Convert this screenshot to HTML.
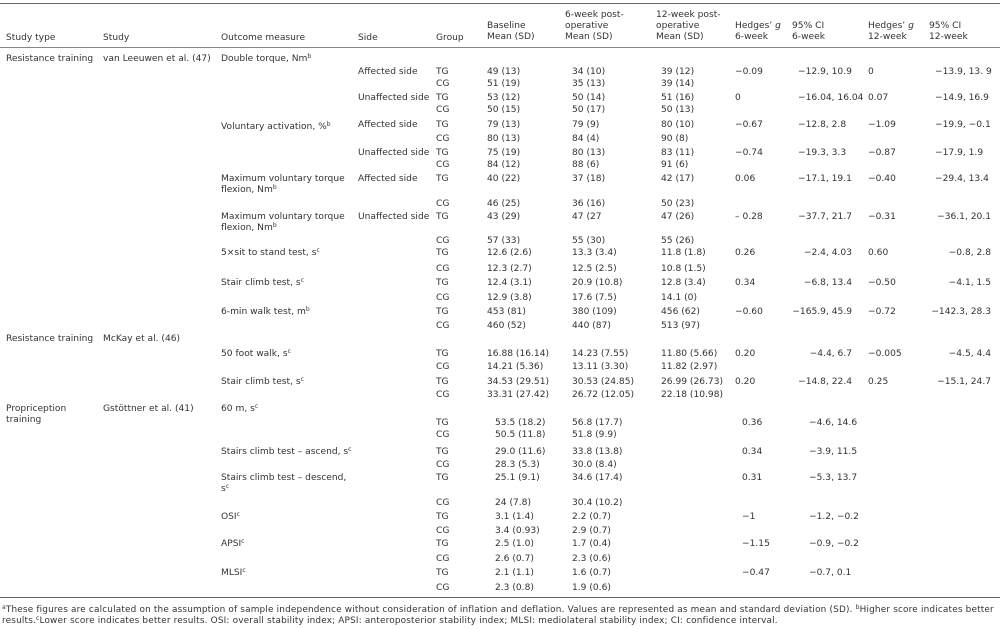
<!DOCTYPE html>
<html><head><meta charset="utf-8">
<style>
html,body{margin:0;padding:0;background:#fff;}
#t{position:relative;width:1000px;height:629px;overflow:hidden;font-family:"DejaVu Sans","Liberation Sans",sans-serif;font-size:9.1px;color:#333;}
.c{position:absolute;white-space:nowrap;line-height:11px;}
.r{transform:translateX(-100%);}
.hl{position:absolute;left:0;width:1000px;height:1px;background:#888;}
sup{font-size:6px;line-height:0;vertical-align:3px;}
.fn{font-size:8.9px;letter-spacing:0.18px;}
</style></head>
<body>
<div id="t">
<div class="hl" style="top:3px;background:#666"></div>
<div class="hl" style="top:47px"></div>
<div class="hl" style="top:597px;background:#666"></div>
<div class="c" style="left:6px;top:33px">Study type</div>
<div class="c" style="left:103px;top:33px">Study</div>
<div class="c" style="left:221px;top:33px">Outcome measure</div>
<div class="c" style="left:358px;top:33px">Side</div>
<div class="c" style="left:436px;top:33px">Group</div>
<div class="c" style="left:487px;top:21px">Baseline<br>Mean (SD)</div>
<div class="c" style="left:565px;top:10px">6-week post-<br>operative<br>Mean (SD)</div>
<div class="c" style="left:656px;top:10px">12-week post-<br>operative<br>Mean (SD)</div>
<div class="c" style="left:735px;top:21px">Hedges’ <i>g</i><br>6-week</div>
<div class="c" style="left:792px;top:21px">95% CI<br>6-week</div>
<div class="c" style="left:868px;top:21px">Hedges’ <i>g</i><br>12-week</div>
<div class="c" style="left:929px;top:21px">95% CI<br>12-week</div>
<div class="c fn" style="left:2px;top:605px"><sup>a</sup>These figures are calculated on the assumption of sample independence without consideration of inflation and deflation. Values are represented as mean and standard deviation (SD). <sup>b</sup>Higher score indicates better</div>
<div class="c fn" style="left:2px;top:616px">results.<sup>c</sup>Lower score indicates better results. OSI: overall stability index; APSI: anteroposterior stability index; MLSI: mediolateral stability index; CI: confidence interval.</div>
</div>
<script>
var labels=[
[59,"Resistance training","van Leeuwen et al. (47)","Double torque, Nm<sup>b</sup>"],
[127,"","","Voluntary activation, %<sup>b</sup>"],
[179,"","","Maximum voluntary torque<br>flexion, Nm<sup>b</sup>"],
[217,"","","Maximum voluntary torque<br>flexion, Nm<sup>b</sup>"],
[253,"","","5×sit to stand test, s<sup>c</sup>"],
[283,"","","Stair climb test, s<sup>c</sup>"],
[312,"","","6-min walk test, m<sup>b</sup>"],
[339,"Resistance training","McKay et al. (46)",""],
[354,"","","50 foot walk, s<sup>c</sup>"],
[382,"","","Stair climb test, s<sup>c</sup>"],
[409,"Propriception<br>training","Gstöttner et al. (41)","60 m, s<sup>c</sup>"],
[452,"","","Stairs climb test – ascend, s<sup>c</sup>"],
[478,"","","Stairs climb test – descend,<br>s<sup>c</sup>"],
[517,"","","OSI<sup>c</sup>"],
[544,"","","APSI<sup>c</sup>"],
[573,"","","MLSI<sup>c</sup>"]
];
// y, side, group, baseline, 6wk, 12wk, g6, ci6, g12, ci12
var rows=[
[72,"Affected side","TG","49 (13)","34 (10)","39 (12)","−0.09","−12.9, 10.9","0","−13.9, 13. 9"],
[84,"","CG","51 (19)","35 (13)","39 (14)","","","",""],
[98,"Unaffected side","TG","53 (12)","50 (14)","51 (16)","0","−16.04, 16.04","0.07","−14.9, 16.9"],
[110,"","CG","50 (15)","50 (17)","50 (13)","","","",""],
[125,"Affected side","TG","79 (13)","79 (9)","80 (10)","−0.67","−12.8, 2.8","−1.09","−19.9, −0.1"],
[139,"","CG","80 (13)","84 (4)","90 (8)","","","",""],
[153,"Unaffected side","TG","75 (19)","80 (13)","83 (11)","−0.74","−19.3, 3.3","−0.87","−17.9, 1.9"],
[165,"","CG","84 (12)","88 (6)","91 (6)","","","",""],
[179,"Affected side","TG","40 (22)","37 (18)","42 (17)","0.06","−17.1, 19.1","−0.40","−29.4, 13.4"],
[204,"","CG","46 (25)","36 (16)","50 (23)","","","",""],
[217,"Unaffected side","TG","43 (29)","47 (27","47 (26)","– 0.28","−37.7, 21.7","−0.31","−36.1, 20.1"],
[241,"","CG","57 (33)","55 (30)","55 (26)","","","",""],
[253,"","TG","12.6 (2.6)","13.3 (3.4)","11.8 (1.8)","0.26","−2.4, 4.03","0.60","−0.8, 2.8"],
[269,"","CG","12.3 (2.7)","12.5 (2.5)","10.8 (1.5)","","","",""],
[283,"","TG","12.4 (3.1)","20.9 (10.8)","12.8 (3.4)","0.34","−6.8, 13.4","−0.50","−4.1, 1.5"],
[298,"","CG","12.9 (3.8)","17.6 (7.5)","14.1 (0)","","","",""],
[312,"","TG","453 (81)","380 (109)","456 (62)","−0.60","−165.9, 45.9","−0.72","−142.3, 28.3"],
[326,"","CG","460 (52)","440 (87)","513 (97)","","","",""],
[354,"","TG","16.88 (16.14)","14.23 (7.55)","11.80 (5.66)","0.20","−4.4, 6.7","−0.005","−4.5, 4.4"],
[367,"","CG","14.21 (5.36)","13.11 (3.30)","11.82 (2.97)","","","",""],
[382,"","TG","34.53 (29.51)","30.53 (24.85)","26.99 (26.73)","0.20","−14.8, 22.4","0.25","−15.1, 24.7"],
[395,"","CG","33.31 (27.42)","26.72 (12.05)","22.18 (10.98)","","","",""],
[423,"","TG","53.5 (18.2)","56.8 (17.7)","","0.36","−4.6, 14.6","",""],
[435,"","CG","50.5 (11.8)","51.8 (9.9)","","","","",""],
[452,"","TG","29.0 (11.6)","33.8 (13.8)","","0.34","−3.9, 11.5","",""],
[465,"","CG","28.3 (5.3)","30.0 (8.4)","","","","",""],
[478,"","TG","25.1 (9.1)","34.6 (17.4)","","0.31","−5.3, 13.7","",""],
[503,"","CG","24 (7.8)","30.4 (10.2)","","","","",""],
[517,"","TG","3.1 (1.4)","2.2 (0.7)","","−1","−1.2, −0.2","",""],
[531,"","CG","3.4 (0.93)","2.9 (0.7)","","","","",""],
[544,"","TG","2.5 (1.0)","1.7 (0.4)","","−1.15","−0.9, −0.2","",""],
[559,"","CG","2.6 (0.7)","2.3 (0.6)","","","","",""],
[573,"","TG","2.1 (1.1)","1.6 (0.7)","","−0.47","−0.7, 0.1","",""],
[588,"","CG","2.3 (0.8)","1.9 (0.6)","","","","",""]
];
var T=document.getElementById('t');
function cell(html,x,y,right){
  var d=document.createElement('div');
  d.className='c'+(right?' r':'');
  d.style.left=x+'px';d.style.top=(y-5)+'px';
  d.innerHTML=html;
  T.appendChild(d);
  return d;
}
labels.forEach(function(l){
  if(l[1]){var a=cell(l[1],6,l[0]);
  
  }
  if(l[2]){var b=cell(l[2],103,l[0]);
  
  }
  if(l[3]){var c=cell(l[3],221,l[0]);
  
  }
});
rows.forEach(function(r,i){
  var y=r[0],p=i>=22;
  var cols=[[r[1],358,0],[r[2],436,0],[r[3],p?495:487,0],[r[4],572,0],[r[5],661,0],
    [r[6],p?742:735,0],[r[7],i<9?798:(p?809:852),!(i<9||p)],[r[8],868,0],[r[9],i<9?935:991,!(i<9)]];
  cols.forEach(function(c,j){
    if(!c[0])return;
    var d=cell(c[0],c[1],y,c[2]);
    
    
  });
});
</script>
</body></html>
